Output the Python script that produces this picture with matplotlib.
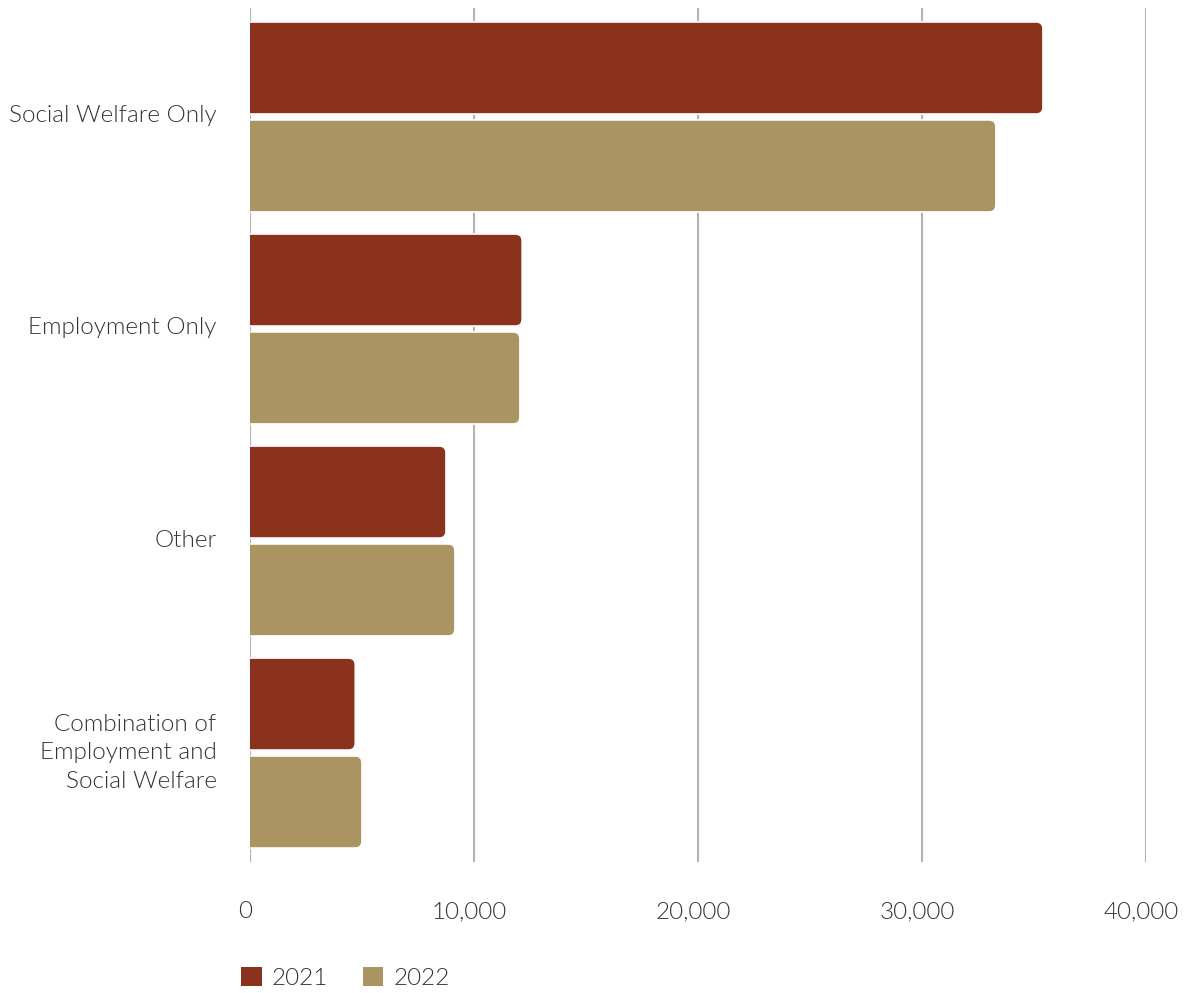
import numpy as np
import matplotlib
matplotlib.use("Agg")
import matplotlib.pyplot as plt
import matplotlib.transforms as mtransforms
from matplotlib.patches import FancyBboxPatch, Patch

plt.rcParams['font.family'] = ['Lato', 'DejaVu Sans']

# Data
categories = ['Social Welfare Only', 'Employment Only', 'Other',
              'Combination of\nEmployment and\nSocial Welfare']
vals_2021 = [35400, 12150, 8750, 4700]
vals_2022 = [33300, 12050, 9150, 5000]
years = ['2021', '2022']

RED = '#8A321C'
TAN = '#AA9562'
TEXT = '#333333'
GRID = '#B4B4B4'
FS = 17.5

fig = plt.figure(figsize=(11.9, 9.93), dpi=100)
ax = fig.add_axes([250 / 1190, 1 - 862 / 993, 896 / 1190, 854 / 993])

y = np.arange(len(categories))
h = 0.434
off = 0.231

# Bars: draw with barh for geometry, then replace with rounded patches
bars1 = ax.barh(y - off, vals_2021, height=h, color=RED)
bars2 = ax.barh(y + off, vals_2022, height=h, color=TAN)

ax.set_xlim(0, 40000)
ax.set_ylim(3.514, -0.514)

r = 300  # rounding in x data units (~7 px)
aspect = (1 / 212) / (1000 / 22.4)
for bars, col in [(bars1, RED), (bars2, TAN)]:
    for b in bars:
        x0, y0 = b.get_x(), b.get_y()
        w, hh = b.get_width(), b.get_height()
        b.remove()
        p = FancyBboxPatch((x0 - 600, y0), w + 600, hh,
                           boxstyle=f"round,pad=0,rounding_size={r}",
                           mutation_aspect=aspect,
                           facecolor=col, edgecolor='white', linewidth=1.2,
                           zorder=3)
        ax.add_patch(p)

ax.set_xticks([0, 10000, 20000, 30000, 40000])
ax.set_xticklabels(['0', '10,000', '20,000', '30,000', '40,000'])
ax.set_yticks(y)
ax.set_yticklabels(categories, ha='right', multialignment='right',
                   linespacing=1.45)

ax.grid(axis='x', color=GRID, linewidth=1.5)
ax.set_axisbelow(True)
for s in ax.spines.values():
    s.set_visible(False)
ax.tick_params(axis='both', length=0, labelsize=FS, labelcolor=TEXT)
ax.tick_params(axis='x', pad=28)
ax.tick_params(axis='y', pad=24)

# small nudges (in pixels) to match label placement
for t in ax.get_xticklabels():
    t.set_fontweight(300)
    t.set_transform(t.get_transform() + mtransforms.ScaledTranslation(-5 / 100, 0, fig.dpi_scale_trans))
for i, t in enumerate(ax.get_yticklabels()):
    t.set_fontweight(300)
    dy = 3 if i < 3 else 6
    t.set_transform(t.get_transform() + mtransforms.ScaledTranslation(0, dy / 100, fig.dpi_scale_trans))

handles = [Patch(facecolor=RED, edgecolor='none'), Patch(facecolor=TAN, edgecolor='none')]
leg = fig.legend(handles, years, loc='center left',
                 bbox_to_anchor=(219 / 1190, 1 - 978 / 993),
                 ncol=2, frameon=False, fontsize=FS,
                 handlelength=0.85, handleheight=0.85, handletextpad=0.4,
                 columnspacing=1.45)
for t in leg.get_texts():
    t.set_color(TEXT)
    t.set_fontweight(300)

fig.savefig('out.png', dpi=100, facecolor='white')
